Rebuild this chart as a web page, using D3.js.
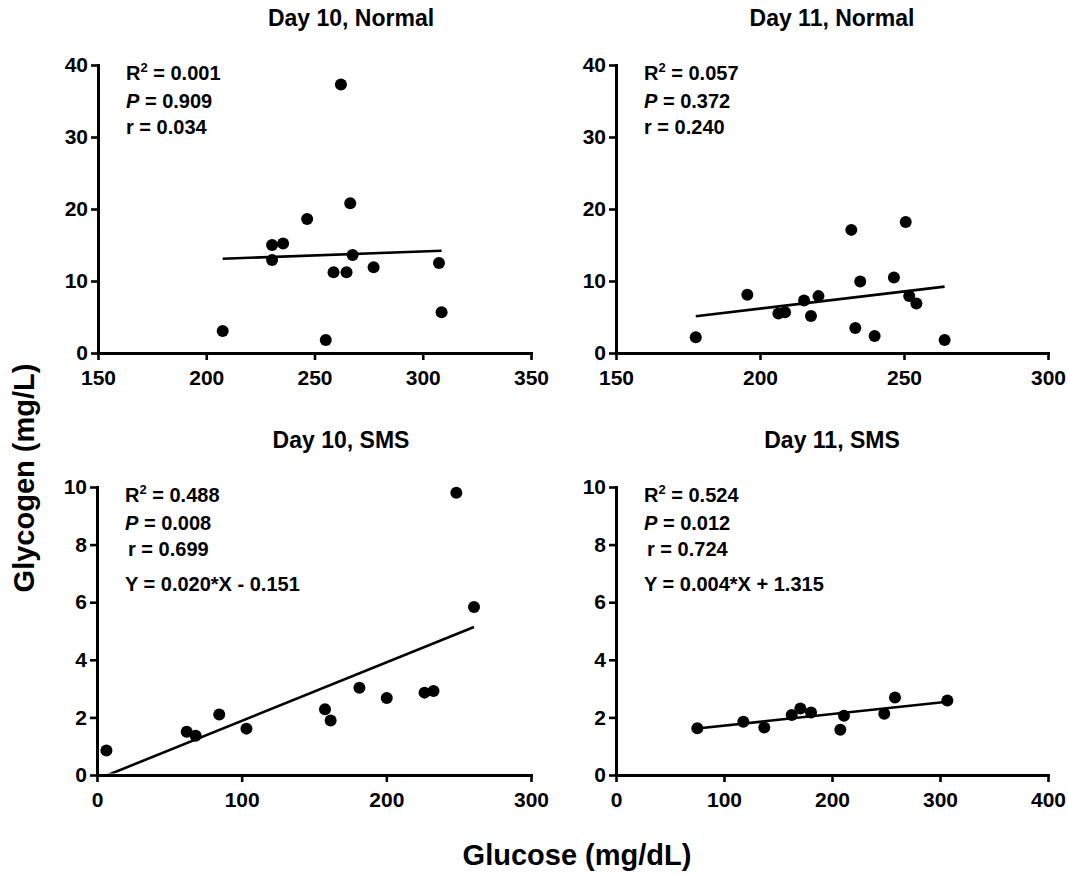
<!DOCTYPE html>
<html>
<head>
<meta charset="utf-8">
<script src="https://cdn.jsdelivr.net/npm/d3@7"></script>
<style>
  html, body { margin: 0; padding: 0; background: #fff; }
  svg { display: block; }
  text { font-family: "Liberation Sans", Arial, Helvetica, sans-serif; font-weight: bold; fill: #000; }
</style>
</head>
<body>
<svg id="chart" width="1068" height="876"></svg>
<script>
// ---------------- data ----------------
const titles = ["Day 10, Normal", "Day 11, Normal", "Day 10, SMS", "Day 11, SMS"];
const xDomains = [[150, 350], [150, 300], [0, 300], [0, 400]];
const yDomains = [[0, 40], [0, 40], [0, 10], [0, 10]];
const xTickValues = [[150, 200, 250, 300, 350], [150, 200, 250, 300], [0, 100, 200, 300], [0, 100, 200, 300, 400]];
const yTickValues = [[0, 10, 20, 30, 40], [0, 10, 20, 30, 40], [0, 2, 4, 6, 8, 10], [0, 2, 4, 6, 8, 10]];

const day10NormalGlucose  = [262.2, 266.5, 246.6, 230.4, 235.5, 230.4, 267.6, 258.8, 264.8, 277.3, 307.5, 308.7, 207.6, 255.2];
const day10NormalGlycogen = [37.3, 20.8, 18.6, 15.0, 15.2, 12.9, 13.6, 11.2, 11.2, 11.9, 12.5, 5.65, 3.06, 1.8];

const day11NormalGlucose  = [177.7, 195.6, 206.4, 208.7, 215.3, 217.7, 220.3, 231.7, 233.1, 234.8, 239.8, 246.5, 250.6, 251.8, 254.3, 264.1];
const day11NormalGlycogen = [2.2, 8.1, 5.5, 5.66, 7.3, 5.15, 7.9, 17.1, 3.48, 9.93, 2.37, 10.5, 18.2, 7.93, 6.87, 1.81];

const day10SMSGlucose  = [6.5, 62.0, 68.2, 84.5, 103.3, 157.6, 161.5, 181.4, 200.3, 226.4, 232.6, 248.4, 260.6];
const day10SMSGlycogen = [0.85, 1.50, 1.36, 2.10, 1.61, 2.28, 1.89, 3.03, 2.67, 2.86, 2.92, 9.80, 5.83];

const day11SMSGlucose  = [75.3, 117.9, 137.3, 162.7, 170.7, 180.6, 207.7, 211.1, 248.4, 258.3, 306.8];
const day11SMSGlycogen = [1.62, 1.85, 1.65, 2.08, 2.31, 2.17, 1.57, 2.06, 2.13, 2.69, 2.59];

const fitSlopes     = [0.0109, 0.0478, 0.0203, 0.004];
const fitIntercepts = [10.83, -3.4, -0.151, 1.315];

const statR2 = ["0.001", "0.057", "0.488", "0.524"];
const statP  = ["0.909", "0.372", "0.008", "0.012"];
const statR  = ["0.034", "0.240", "0.699", "0.724"];
const statEq = [null, null, "Y = 0.020*X - 0.151", "Y = 0.004*X + 1.315"];

const xLabel = "Glucose (mg/dL)";
const yLabel = "Glycogen (mg/L)";

// ---------------- layout ----------------
const xs = [day10NormalGlucose, day11NormalGlucose, day10SMSGlucose, day11SMSGlucose];
const ys = [day10NormalGlycogen, day11NormalGlycogen, day10SMSGlycogen, day11SMSGlycogen];

const plotBoxes = [
  { x0: 98,  x1: 531,  y0: 65,  y1: 353 },
  { x0: 616, x1: 1048, y0: 65,  y1: 353 },
  { x0: 97,  x1: 531,  y0: 487, y1: 775 },
  { x0: 616, x1: 1048, y0: 487, y1: 775 }
];
const titlePos = [
  { x: 351, y: 26 },
  { x: 832, y: 26 },
  { x: 341, y: 448 },
  { x: 832, y: 448 }
];
const rOffsets = [0, 0, 3, 3];

const svg = d3.select("#chart");

titles.forEach((title, i) => {
  const b = plotBoxes[i];
  const x = d3.scaleLinear().domain(xDomains[i]).range([b.x0, b.x1]);
  const y = d3.scaleLinear().domain(yDomains[i]).range([b.y1, b.y0]);
  const g = svg.append("g");

  // axes
  const xAxis = d3.axisBottom(x).tickValues(xTickValues[i]).tickSizeOuter(0).tickSizeInner(7).tickPadding(10).tickFormat(d3.format("d"));
  const yAxis = d3.axisLeft(y).tickValues(yTickValues[i]).tickSizeOuter(0).tickSizeInner(7).tickPadding(3).tickFormat(d3.format("d"));

  const gx = g.append("g").attr("transform", `translate(0,${b.y1})`).call(xAxis);
  const gy = g.append("g").attr("transform", `translate(${b.x0},0)`).call(yAxis);
  [gx, gy].forEach(ax => {
    ax.select(".domain").attr("stroke", "#000").attr("stroke-width", 3).attr("stroke-linecap", "square");
    ax.selectAll(".tick line").attr("stroke", "#000").attr("stroke-width", 2.6);
    ax.selectAll(".tick text").attr("font-size", 21).attr("font-family", null).style("font-weight", "bold").attr("fill", "#000");
  });

  // clip
  const clipId = "clip" + i;
  svg.append("clipPath").attr("id", clipId).append("rect")
    .attr("x", b.x0).attr("y", b.y0 - 10).attr("width", b.x1 - b.x0).attr("height", b.y1 - b.y0 + 8.5);

  // regression line
  const xmin = d3.min(xs[i]), xmax = d3.max(xs[i]);
  const line = d3.line().x(d => x(d)).y(d => y(fitSlopes[i] * d + fitIntercepts[i]));
  g.append("path").datum([xmin, xmax]).attr("d", line)
    .attr("fill", "none").attr("stroke", "#000").attr("stroke-width", 2.6)
    .attr("clip-path", `url(#${clipId})`);

  // points
  g.selectAll("circle.pt").data(xs[i].map((v, k) => [v, ys[i][k]])).enter()
    .append("circle").attr("class", "pt")
    .attr("cx", d => x(d[0])).attr("cy", d => y(d[1])).attr("r", 6).attr("fill", "#000");

  // title
  g.append("text").attr("x", titlePos[i].x).attr("y", titlePos[i].y)
    .attr("text-anchor", "middle").attr("font-size", 23).text(title);

  // stats
  const tx = b.x0 + 28;
  const t1 = g.append("text").attr("x", tx).attr("y", b.y0 + 14.5).attr("font-size", 20);
  t1.append("tspan").text("R");
  t1.append("tspan").attr("font-size", 13).attr("dy", -8).text("2");
  t1.append("tspan").attr("dy", 8).text(" = " + statR2[i]);

  const t2 = g.append("text").attr("x", tx).attr("y", b.y0 + 42.5).attr("font-size", 20);
  t2.append("tspan").attr("font-style", "italic").text("P");
  t2.append("tspan").text(" = " + statP[i]);

  g.append("text").attr("x", tx + rOffsets[i]).attr("y", b.y0 + 69).attr("font-size", 20)
    .text("r = " + statR[i]);

  if (statEq[i]) {
    g.append("text").attr("x", tx).attr("y", b.y0 + 103.5).attr("font-size", 20).text(statEq[i]);
  }
});

// shared axis labels
svg.append("text").attr("x", 577).attr("y", 865).attr("text-anchor", "middle")
  .attr("font-size", 29).text(xLabel);
svg.append("text").attr("transform", "translate(34,478) rotate(-90)").attr("text-anchor", "middle")
  .attr("font-size", 29).text(yLabel);
</script>
</body>
</html>
